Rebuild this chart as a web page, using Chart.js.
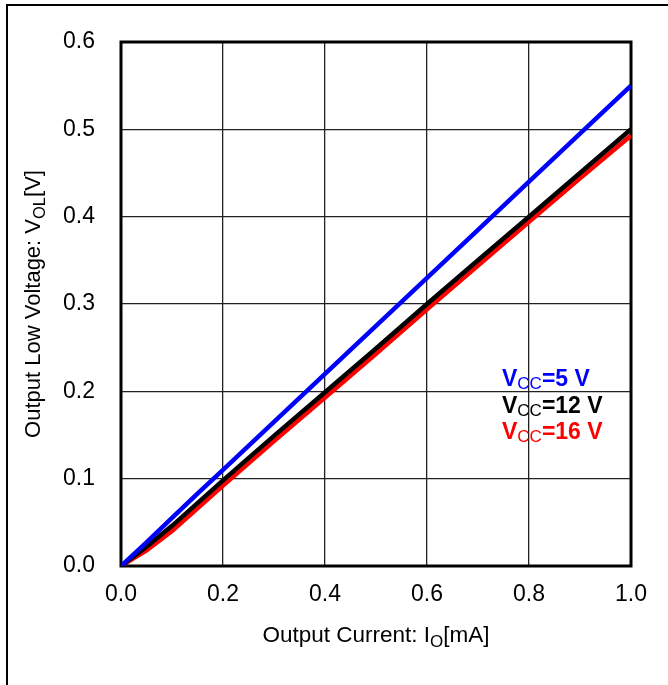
<!DOCTYPE html>
<html>
<head>
<meta charset="utf-8">
<script src="https://cdn.jsdelivr.net/npm/chart.js@4/dist/chart.umd.min.js"></script>
<style>
  html, body { margin: 0; padding: 0; background: #fff; }
  #wrap { position: relative; width: 668px; height: 685px; overflow: hidden; }
  #frame { position: absolute; left: 6px; top: 4px; width: 700px; height: 700px;
           border-left: 2px solid #000; border-top: 2px solid #000; }
  canvas { position: absolute; left: 0; top: 0; }
</style>
</head>
<body>
<div id="wrap">
  <div id="frame"></div>
  <canvas id="c" width="668" height="685"></canvas>
</div>
<script>
// Output current I_O [mA]
const currentMA = [0, 0.05, 0.1, 0.15, 0.2, 0.3, 0.4, 0.5, 0.6, 0.7, 0.8, 0.9, 1.0];
// Output low voltage V_OL [V]
const vol5V  = [0, 0.027, 0.055, 0.083, 0.110, 0.165, 0.220, 0.275, 0.330, 0.385, 0.440, 0.495, 0.550];
const vol12V = [0, 0.022, 0.046, 0.072, 0.098, 0.149, 0.199, 0.249, 0.300, 0.350, 0.400, 0.450, 0.500];
const vol16V = [0, 0.018, 0.040, 0.066, 0.092, 0.143, 0.193, 0.243, 0.294, 0.344, 0.394, 0.444, 0.493];
const xTicks = [0, 0.2, 0.4, 0.6, 0.8, 1.0];
const yTicks = [0, 0.1, 0.2, 0.3, 0.4, 0.5, 0.6];
const seriesLabels = ['=5 V', '=12 V', '=16 V'];
const seriesColors = ['#0000ff', '#000000', '#ff0000'];

const FONT = '"Liberation Sans", Arial, sans-serif';

function pts(ys) { return currentMA.map((x, i) => ({x: x, y: ys[i]})); }

function drawRich(ctx, parts, x, y, align) {
  let total = 0;
  parts.forEach(p => { ctx.font = p.font; total += ctx.measureText(p.t).width; });
  let cx = align === 'center' ? x - total / 2 : x;
  parts.forEach(p => {
    ctx.font = p.font;
    ctx.fillText(p.t, cx, y + (p.dy || 0));
    cx += ctx.measureText(p.t).width;
  });
}

const decor = {
  id: 'decor',
  beforeDatasetsDraw(chart) {
    const {ctx, chartArea: a} = chart;
    ctx.save();
    ctx.strokeStyle = '#000';
    ctx.lineWidth = 3;
    ctx.strokeRect(a.left, a.top, a.right - a.left, a.bottom - a.top);
    ctx.restore();
  },
  afterDraw(chart) {
    const {ctx, chartArea: a} = chart;
    ctx.save();
    ctx.fillStyle = '#000';
    ctx.textBaseline = 'alphabetic';
    // x title
    drawRich(ctx, [
      {t: 'Output Current: I', font: '22.5px ' + FONT},
      {t: 'O', font: '17px ' + FONT, dy: 5},
      {t: '[mA]', font: '22.5px ' + FONT}
    ], (a.left + a.right) / 2, 642, 'center');
    // y title
    ctx.translate(40, (a.top + a.bottom) / 2);
    ctx.rotate(-Math.PI / 2);
    drawRich(ctx, [
      {t: 'Output Low Voltage: V', font: '22px ' + FONT},
      {t: 'OL', font: '16.5px ' + FONT, dy: 5},
      {t: '[V]', font: '22px ' + FONT}
    ], 0, 0, 'center');
    ctx.restore();
    // series labels
    ctx.save();
    ctx.textBaseline = 'alphabetic';
    const baselines = [386, 413, 439];
    seriesLabels.forEach((lab, i) => {
      ctx.fillStyle = seriesColors[i];
      drawRich(ctx, [
        {t: 'V', font: 'bold 23px ' + FONT},
        {t: 'CC', font: '17px ' + FONT, dy: 2.5},
        {t: lab, font: 'bold 23px ' + FONT}
      ], 502, baselines[i], 'left');
    });
    ctx.restore();
  }
};

const mk = (label, ys, color) => ({
  label: label, data: pts(ys), borderColor: color, backgroundColor: color,
  borderWidth: 4.5, pointRadius: 0, tension: 0, showLine: true, fill: false
});

new Chart(document.getElementById('c'), {
  type: 'scatter',
  data: {
    datasets: [
      mk('VCC=5 V', vol5V, seriesColors[0]),
      mk('VCC=12 V', vol12V, seriesColors[1]),
      mk('VCC=16 V', vol16V, seriesColors[2])
    ]
  },
  options: {
    responsive: false,
    animation: false,
    devicePixelRatio: 1,
    layout: { padding: { left: 0, top: 42, right: 37, bottom: 0 } },
    plugins: { legend: { display: false }, tooltip: { enabled: false } },
    scales: {
      x: {
        type: 'linear', min: 0, max: 1,
        afterBuildTicks: s => { s.ticks = xTicks.map(v => ({value: v})); },
        afterFit: s => { s.height = 119; },
        grid: { color: '#222', lineWidth: 1.3, drawTicks: false },
        border: { display: false },
        ticks: { padding: 15, color: '#000', font: { family: FONT, size: 23 },
                 callback: v => Number(v).toFixed(1) }
      },
      y: {
        type: 'linear', min: 0, max: 0.6,
        afterBuildTicks: s => { s.ticks = yTicks.map(v => ({value: v})); },
        afterFit: s => { s.width = 121; },
        grid: { color: '#222', lineWidth: 1.3, drawTicks: false },
        border: { display: false },
        ticks: { padding: 26, color: '#000', font: { family: FONT, size: 23 },
                 callback: v => Number(v).toFixed(1) }
      }
    }
  },
  plugins: [decor]
});
</script>
</body>
</html>
